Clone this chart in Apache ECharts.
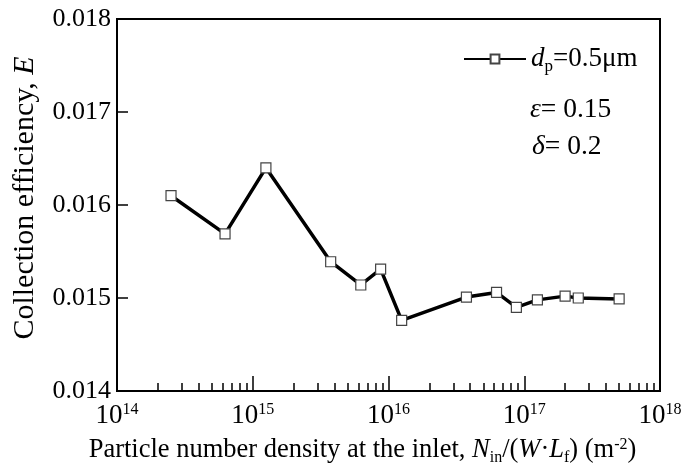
<!DOCTYPE html>
<html>
<head>
<meta charset="utf-8">
<script src="https://cdn.jsdelivr.net/npm/echarts@6/dist/echarts.min.js"></script>
<style>html,body{margin:0;padding:0;background:#fff}#c{width:681px;height:463px}</style>
</head>
<body>
<div id="c"></div>
<script>
// ---- data ----
const densities = [2.5e14, 6.25e14, 1.25e15, 3.75e15, 6.25e15, 8.75e15, 1.25e16, 3.75e16, 6.25e16, 8.75e16, 1.25e17, 2e17, 2.5e17, 5e17];
const efficiency = [0.01610, 0.01569, 0.01640, 0.01539, 0.01514, 0.01531, 0.01476, 0.01501, 0.01506, 0.01490, 0.01498, 0.01502, 0.01500, 0.01499];
const yTicks = [0.014, 0.015, 0.016, 0.017, 0.018];
const xDecades = [1e14, 1e15, 1e16, 1e17, 1e18];
const xMinorTicks = [];
for (let d = 0; d < xDecades.length - 1; d++) {
  for (let m = 2; m <= 9; m++) xMinorTicks.push(m * xDecades[d]);
}

const FONT = 'Liberation Serif';
const chart = echarts.init(document.getElementById('c'));
function rich(size, subSize, lh) {
  return {
    n: {fontFamily: FONT, fontSize: size, color: '#000', lineHeight: lh},
    i: {fontFamily: FONT, fontSize: size, color: '#000', fontStyle: 'italic', lineHeight: lh},
    sub: {fontFamily: FONT, fontSize: subSize, color: '#000', lineHeight: lh, padding: [Math.round(size * 0.55), 0, 0, 0]},
    sup: {fontFamily: FONT, fontSize: subSize, color: '#000', lineHeight: lh, padding: [0, 0, Math.round(size * 0.45), 0]}
  };
}

chart.setOption({
  animation: false,
  backgroundColor: '#fff',
  grid: {left: 117, right: 21, top: 19, bottom: 72, outerBoundsMode: 'none', containLabel: false,
         show: true, borderColor: '#000', borderWidth: 2, backgroundColor: 'transparent'},
  legend: {
    left: 463, top: 43, padding: 0, itemWidth: 62, itemHeight: 11, itemGap: 0,
    data: ['dp'],
    formatter: () => '{i|d}{sub|p}{n|=0.5μm}',
    textStyle: {rich: rich(27, 17, 30)}
  },
  xAxis: [{
    type: 'log', logBase: 10, min: xDecades[0], max: xDecades[xDecades.length - 1],
    position: 'bottom',
    axisLine: {lineStyle: {color: '#000', width: 2}},
    axisTick: {inside: true, length: 15, lineStyle: {color: '#000', width: 1.5}},
    minorTick: {show: false},
    splitLine: {show: false},
    axisLabel: {
      margin: 10,
      formatter: v => '{b|10}{s|' + Math.round(Math.log10(v)) + '}',
      rich: {
        b: {fontFamily: FONT, fontSize: 27, color: '#000', lineHeight: 30},
        s: {fontFamily: FONT, fontSize: 16, color: '#000', lineHeight: 30, padding: [0, 0, 12, 0]}
      }
    },
    name: '{n|Particle number density at the inlet, }{i|N}{sub|in}{n|/(}{i|W}{n|·}{i|L}{sub|f}{n|) (m}{sup|-2}{n|)}',
    nameLocation: 'middle', nameGap: 43,
    nameTextStyle: {rich: rich(26.5, 16, 30), padding: [0, 52, 0, 0]}
  }, {
    type: 'log', logBase: 10, min: xDecades[0], max: xDecades[xDecades.length - 1],
    position: 'bottom',
    axisLine: {show: false},
    axisTick: {inside: true, length: 8, customValues: xMinorTicks, lineStyle: {color: '#000', width: 1.5}},
    axisLabel: {show: false},
    splitLine: {show: false}
  }],
  yAxis: {
    type: 'value', min: yTicks[0], max: yTicks[yTicks.length - 1], interval: 0.001,
    axisLine: {lineStyle: {color: '#000', width: 2}},
    axisTick: {inside: true, length: 11, lineStyle: {color: '#000', width: 1.5}},
    splitLine: {show: false},
    axisLabel: {margin: 6, formatter: v => v.toFixed(3), fontFamily: FONT, fontSize: 26, color: '#000'},
    name: '{n|Collection efficiency, }{i|E}',
    nameLocation: 'middle', nameGap: 76,
    nameTextStyle: {rich: rich(30, 18, 32), padding: [0, 0, 0, 14]}
  },
  graphic: [
    {type: 'text', left: 530, top: 96, style: {text: '{i|ε}{n|= 0.15}', rich: rich(27.5, 17, 32)}},
    {type: 'text', left: 532, top: 133, style: {text: '{i|δ}{n|= 0.2}', rich: rich(27.5, 17, 32)}}
  ],
  series: [{
    name: 'dp', type: 'line', xAxisIndex: 0,
    data: densities.map((x, k) => [x, efficiency[k]]),
    lineStyle: {color: '#000', width: 3.5},
    symbol: 'rect', symbolSize: 10, showAllSymbol: true,
    itemStyle: {color: '#fff', borderColor: '#444', borderWidth: 1.2},
    z: 3
  }]
});
</script>
</body>
</html>
